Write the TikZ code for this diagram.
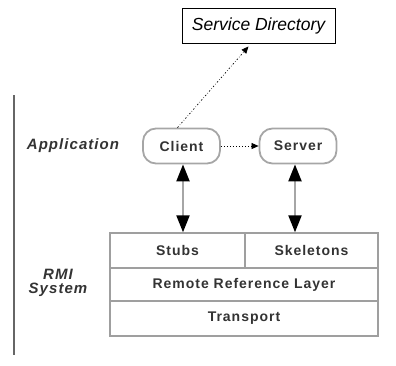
\documentclass[tikz,border=0pt]{standalone}
\usepackage{fontspec}
\setmainfont{Liberation Sans}
\newfontfamily\widesans[LetterSpace=7]{Liberation Sans}
\usetikzlibrary{arrows.meta}
\begin{document}
\begin{tikzpicture}[x=1pt,y=-1pt,
  layerbox/.style={draw=gray!75,line width=1.4pt,fill=white,inner sep=0pt,
    text=black!80,font=\widesans\fontsize{14}{16}\selectfont\bfseries},
  appbox/.style={draw=gray!70,line width=1.8pt,rounded corners=13pt,inner sep=0pt,
    minimum width=77pt,minimum height=35pt,text=black!80,
    font=\widesans\fontsize{14}{16}\selectfont\bfseries},
  sidelabel/.style={align=center,text=black!80,
    font=\widesans\fontsize{15}{17}\selectfont\bfseries\itshape},
  callarrow/.style={line width=2.2pt,draw=gray!70,
    {Triangle[length=17pt,width=13pt,color=black]}-{Triangle[length=17pt,width=13pt,color=black]}},
  lookup/.style={dash pattern=on 1.5pt off 2pt on 0.5pt off 2pt,line width=0.7pt,
    -{Triangle[length=7pt,width=6pt]}}
]
\useasboundingbox (0,0) rectangle (396,365);

% left margin rule
\draw[gray!80!black,line width=2.5pt] (14,95) -- (14,355);

% directory
\node[draw=black,line width=0.9pt,minimum width=153pt,minimum height=35pt,inner sep=0pt,
  font=\fontsize{17.5}{19}\selectfont\itshape] (sd) at (258.5,25.5) {Service Directory};

% application layer
\node[appbox] (client) at (181.5,146) {Client};
\node[appbox] (server) at (298,146) {Server};
\node[sidelabel] (applabel) at (73,146) {Application};

% RMI system layers
\node[layerbox,minimum width=135pt,minimum height=35pt] (stubs) at (177.5,250.5) {Stubs};
\node[layerbox,minimum width=133pt,minimum height=35pt] (skel) at (311.5,250.5) {Skeletons};
\node[layerbox,minimum width=268pt,minimum height=33pt] (rrl) at (244,284.5) {Remote Reference Layer};
\node[layerbox,minimum width=268pt,minimum height=35pt] (transport) at (244,318.5) {Transport};
\node[sidelabel] (rmilabel) at (58,283) {RMI\\[-3pt]System};

% connectors
\draw[callarrow] ([xshift=1.5pt]client.south) -- ([xshift=1.5pt]client.south |- stubs.north);
\draw[callarrow] ([xshift=-3pt]server.south) -- ([xshift=-3pt]server.south |- skel.north);
\draw[lookup] (client.east) -- (server.west);
\draw[lookup] ([xshift=-4pt]client.north) -- ([xshift=-10pt,yshift=-3pt]sd.south);
\end{tikzpicture}
\end{document}
